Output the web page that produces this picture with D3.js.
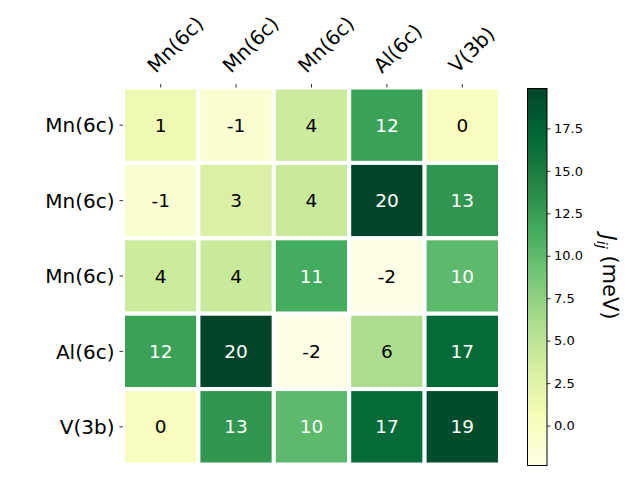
<!DOCTYPE html>
<html>
<head>
<meta charset="utf-8">
<script src="https://cdn.jsdelivr.net/npm/d3@7"></script>
<style>
  body { margin: 0; background: #fff; }
  svg { font-family: "DejaVu Sans", sans-serif; }
</style>
</head>
<body>
<svg id="chart" width="640" height="480"></svg>
<script>
// site labels (rows and columns share them)
var siteLabels = ["Mn(6c)", "Mn(6c)", "Mn(6c)", "Al(6c)", "V(3b)"];

// exchange couplings J_ij in meV, one array per row
var rowMn1 = [1.1, -1.0, 4.0, 12.2, 0.1];
var rowMn2 = [-1.0, 3.1, 4.2, 19.85, 13.0];
var rowMn3 = [4.0, 4.2, 11.4, -2.35, 10.1];
var rowAl = [12.2, 19.85, -2.35, 6.0, 16.8];
var rowV = [0.1, 13.0, 10.1, 16.8, 19.2];
var jRows = [rowMn1, rowMn2, rowMn3, rowAl, rowV];

var cbTicks = [0, 2.5, 5, 7.5, 10, 12.5, 15, 17.5];

// matplotlib YlGn stops
var ylgn = ["#ffffe5", "#f7fcb9", "#d9f0a3", "#addd8e", "#78c679",
            "#41ab5d", "#238443", "#006837", "#004529"];

var svg = d3.select("#chart");

var x0 = 123, x1 = 500, y0 = 87.5, y1 = 464.5;

var vmin = d3.min(jRows, function(r) { return d3.min(r); });
var vmax = d3.max(jRows, function(r) { return d3.max(r); });

var norm = d3.scaleLinear().domain([vmin, vmax]).range([0, 1]);
var cmap = d3.scaleLinear()
    .domain(d3.range(ylgn.length).map(function(i) { return i / (ylgn.length - 1); }))
    .range(ylgn)
    .interpolate(d3.interpolateRgb);
function color(v) { return cmap(norm(v)); }

var idx = d3.range(siteLabels.length);
var x = d3.scaleBand().domain(idx).range([x0, x1]);
var y = d3.scaleBand().domain(idx).range([y0, y1]);

var cells = [];
jRows.forEach(function(row, i) {
  row.forEach(function(v, j) { cells.push({ r: i, c: j, v: v }); });
});

var g = svg.append("g");

// cells with white grid lines
g.selectAll("rect.cell")
  .data(cells)
  .enter().append("rect")
  .attr("class", "cell")
  .attr("x", function(d) { return x(d.c); })
  .attr("y", function(d) { return y(d.r); })
  .attr("width", x.bandwidth())
  .attr("height", y.bandwidth())
  .attr("fill", function(d) { return color(d.v); })
  .attr("stroke", "#fff")
  .attr("stroke-width", 4);

// annotations
g.selectAll("text.val")
  .data(cells)
  .enter().append("text")
  .attr("class", "val")
  .attr("x", function(d) { return x(d.c) + x.bandwidth() / 2; })
  .attr("y", function(d) { return y(d.r) + y.bandwidth() / 2; })
  .attr("dy", "0.36em")
  .attr("text-anchor", "middle")
  .attr("font-size", "18.5px")
  .attr("fill", function(d) { return norm(d.v) > 0.5 ? "#fff" : "#000"; })
  .text(function(d) { return Math.round(d.v); });

// top axis
var topAxis = svg.append("g");
idx.forEach(function(i) {
  var cx = x(i) + x.bandwidth() / 2;
  topAxis.append("line")
    .attr("x1", cx).attr("x2", cx)
    .attr("y1", y0 - 3.5).attr("y2", y0)
    .attr("stroke", "#000").attr("stroke-width", 0.8);
  topAxis.append("text")
    .attr("transform", "translate(" + (cx - 5) + "," + 74 + ") rotate(-45)")
    .attr("font-size", "20px")
    .text(siteLabels[i]);
});

// left axis
var leftAxis = svg.append("g");
idx.forEach(function(i) {
  var cy = y(i) + y.bandwidth() / 2;
  leftAxis.append("line")
    .attr("x1", x0 - 3.5).attr("x2", x0)
    .attr("y1", cy).attr("y2", cy)
    .attr("stroke", "#000").attr("stroke-width", 0.8);
  leftAxis.append("text")
    .attr("x", x0 - 8.5)
    .attr("y", cy)
    .attr("dy", "0.36em")
    .attr("text-anchor", "end")
    .attr("font-size", "20px")
    .text(siteLabels[i]);
});

// colorbar
var cbX = 527.5, cbW = 19.5, cbTop = 88.5, cbBot = 465.5;
var cbScale = d3.scaleLinear().domain([vmin, vmax]).range([cbBot, cbTop]);

var defs = svg.append("defs");
var grad = defs.append("linearGradient")
  .attr("id", "cbgrad")
  .attr("x1", 0).attr("y1", 1).attr("x2", 0).attr("y2", 0);
ylgn.forEach(function(c, i) {
  grad.append("stop")
    .attr("offset", (i / (ylgn.length - 1) * 100) + "%")
    .attr("stop-color", c);
});

svg.append("rect")
  .attr("x", cbX).attr("y", cbTop)
  .attr("width", cbW).attr("height", cbBot - cbTop)
  .attr("fill", "url(#cbgrad)")
  .attr("stroke", "#000").attr("stroke-width", 1);

var cbAxis = svg.append("g")
  .attr("transform", "translate(" + (cbX + cbW) + ",0)")
  .call(d3.axisRight(cbScale).tickValues(cbTicks).tickFormat(d3.format(".1f"))
        .tickSize(3.5).tickPadding(3.5));
cbAxis.select(".domain").remove();
cbAxis.selectAll("line").attr("stroke-width", 0.8);
cbAxis.selectAll("text").attr("font-size", "13px").attr("font-family", "DejaVu Sans, sans-serif");

// colorbar label
var lab = svg.append("text")
  .attr("transform", "translate(601," + ((cbTop + cbBot) / 2) + ") rotate(90)")
  .attr("text-anchor", "middle")
  .attr("font-size", "21px");
lab.append("tspan").attr("font-style", "italic").text("J");
lab.append("tspan").attr("font-style", "italic").attr("font-size", "14.5px")
  .attr("dy", "0.25em").text("ij");
lab.append("tspan").attr("dy", "-0.25em").text(" (meV)");
</script>
</body>
</html>
